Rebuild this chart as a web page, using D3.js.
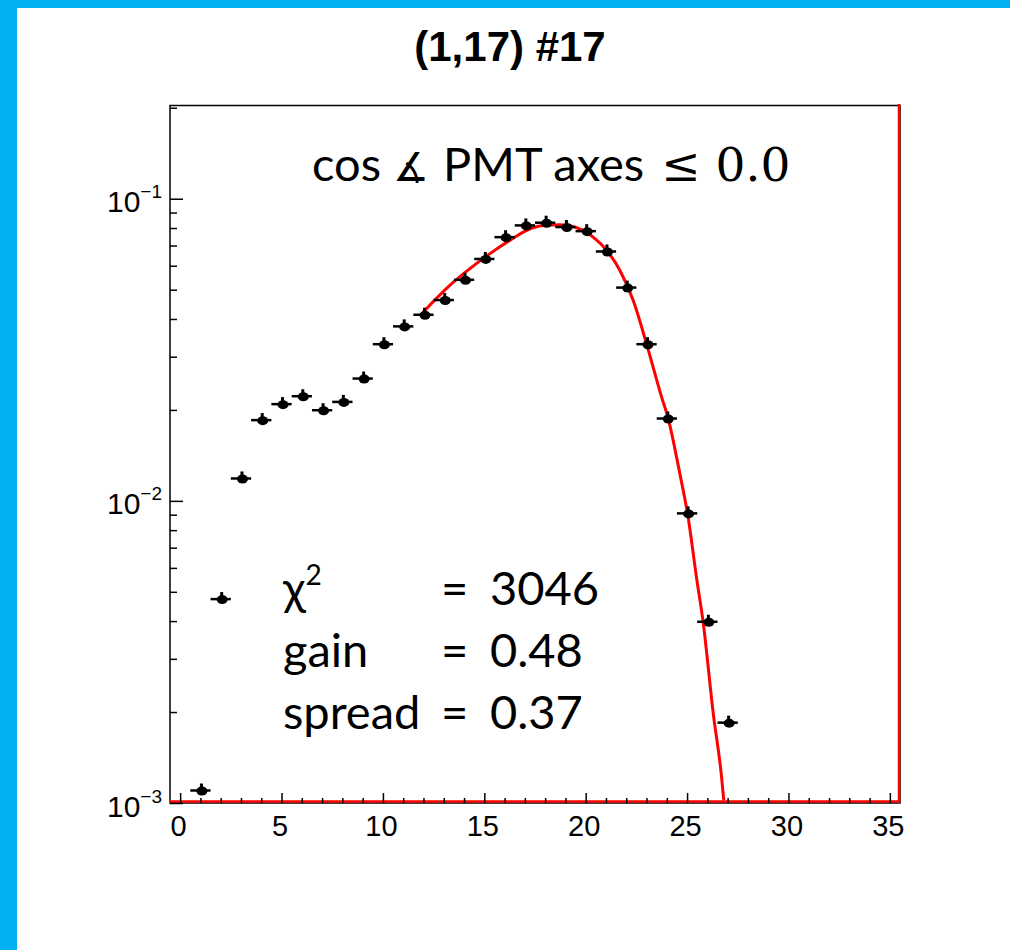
<!DOCTYPE html>
<html><head><meta charset="utf-8">
<script src="https://cdn.jsdelivr.net/npm/d3@7"></script>
<style>body{margin:0;background:#fff;} svg{display:block}</style>
</head><body>
<script>
// ---------- data ----------
const binCenters = [1,2,3,4,5,6,7,8,9,10,11,12,13,14,15,16,17,18,19,20,21,22,23,24,25,26,27];
const binValues  = [0.00110,0.00473,0.01186,0.0185,0.0209,0.0222,0.01995,0.02126,0.0254,0.0330,
                    0.0378,0.0413,0.0462,0.0539,0.0632,0.0746,0.0816,0.0833,0.0806,0.0781,
                    0.0669,0.0508,0.0330,0.01873,0.00909,0.00398,0.001845];
const fitX = [11.99,13.30,14.29,15.28,16.26,17.09,17.90,18.73,19.55,20.37,21.03,21.69,22.34,23.0,23.74,24.07,24.64,25.05,25.47,25.79,26.29,26.70,26.81];
const fitY = [0.0422,0.0517,0.0587,0.0658,0.0728,0.0786,0.0816,0.0820,0.0802,0.0746,0.0675,0.0579,0.0461,0.0331,0.0221,0.01873,0.01233,0.00885,0.00554,0.00398,0.00198,0.00122,0.00102];
const xTickValues = [0,5,10,15,20,25,30,35];
const xMinorValues = d3.range(0,36).filter(v => v % 5 !== 0);
const yTickExponents = [-3,-2,-1];
const xDomain = [-0.5, 35.5];
const yDomain = [1e-3, 0.2035];
const titleText = "(1,17) #17";
const statNames = ["χ","gain","spread"];
const statValues = ["3046","0.48","0.37"];

// ---------- layout ----------
const W = 1010, H = 950;
const M = {left:170, right:900, top:105.5, bottom:803};
const blue = "#00B0F0";

const svg = d3.select("body").append("svg").attr("width", W).attr("height", H);
svg.append("rect").attr("width", W).attr("height", H).attr("fill", "#fff");
svg.append("rect").attr("x",0).attr("y",0).attr("width",W).attr("height",8).attr("fill",blue);
svg.append("rect").attr("x",0).attr("y",0).attr("width",17).attr("height",H).attr("fill",blue);

const x = d3.scaleLinear().domain(xDomain).range([M.left, M.right]);
const y = d3.scaleLog().domain(yDomain).range([M.bottom, M.top]);

// title
svg.append("text").attr("x", 510).attr("y", 61).attr("text-anchor","middle")
  .attr("font-family","Liberation Sans, Arial, sans-serif").attr("font-weight","bold")
  .attr("font-size", 42).text(titleText);

// frame
svg.append("rect").attr("x", M.left).attr("y", M.top)
  .attr("width", M.right - M.left).attr("height", M.bottom - M.top)
  .attr("fill","none").attr("stroke","#000").attr("stroke-width",1.5);

// fit function clamped at bottom / right edge
const clampLine = d3.line().x(d => x(d[0])).y(d => y(d[1]));
svg.append("path")
  .datum([[xDomain[0], yDomain[0]], [xDomain[1], yDomain[0]], [xDomain[1], yDomain[1]]])
  .attr("d", clampLine).attr("fill","none").attr("stroke","#ff0000").attr("stroke-width",2.5)
  .attr("transform","translate(-1,-1.5)");

// x axis
const fontAxis = "Liberation Sans, Arial, Helvetica, sans-serif";
const gx = svg.append("g").attr("transform", `translate(0,${M.bottom})`)
  .call(d3.axisBottom(x).tickValues(xTickValues).tickSizeInner(-10).tickSizeOuter(0).tickPadding(12));
gx.select(".domain").remove();
gx.selectAll("line").attr("stroke","#000").attr("stroke-width",1.5);
gx.selectAll("text").attr("font-family",fontAxis).attr("font-size",29).attr("fill","#000").attr("dx",-2);
const gxm = svg.append("g").attr("transform", `translate(0,${M.bottom})`)
  .call(d3.axisBottom(x).tickValues(xMinorValues).tickSizeInner(-5).tickSizeOuter(0).tickFormat(""));
gxm.select(".domain").remove();
gxm.selectAll("line").attr("stroke","#000").attr("stroke-width",1.5);

// y axis
const yMajor = yTickExponents.map(e => Math.pow(10, e));
const yMinor = [];
yTickExponents.forEach(e => { for (let k = 2; k <= 9; k++) { const v = k * Math.pow(10, e); if (v <= yDomain[1]) yMinor.push(v); } });
const gy = svg.append("g").attr("transform", `translate(${M.left},0)`)
  .call(d3.axisLeft(y).tickValues(yMajor).tickSizeInner(-13).tickSizeOuter(0).tickFormat(""));
gy.select(".domain").remove();
gy.selectAll("line").attr("stroke","#000").attr("stroke-width",1.5);
gy.selectAll(".tick").each(function(d) {
  const t = d3.select(this).append("text").attr("x", -8).attr("y", 13)
    .attr("text-anchor","end").attr("font-family",fontAxis).attr("fill","#000");
  t.append("tspan").attr("font-size",30).text("10");
  t.append("tspan").attr("font-size",19).attr("dy",-14).text("−" + String(-Math.round(Math.log10(d))));
});
const gym = svg.append("g").attr("transform", `translate(${M.left},0)`)
  .call(d3.axisLeft(y).tickValues(yMinor).tickSizeInner(-7).tickSizeOuter(0).tickFormat(""));
gym.select(".domain").remove();
gym.selectAll("line").attr("stroke","#000").attr("stroke-width",1.5);

// fit curve
const fitData = fitX.map((v,i) => [v, fitY[i]]);
svg.append("path").datum(fitData)
  .attr("d", d3.line().x(d => x(d[0])).y(d => y(d[1])).curve(d3.curveMonotoneX))
  .attr("fill","none").attr("stroke","#ff0000").attr("stroke-width",3);

// data markers
const pts = svg.append("g").selectAll("g").data(binCenters.map((c,i)=>[c, binValues[i]])).join("g")
  .attr("transform", d => `translate(${x(d[0])},${y(d[1])})`);
pts.append("line").attr("x1", d => x(d[0]-0.5) - x(d[0])).attr("x2", d => x(d[0]+0.5) - x(d[0]))
  .attr("stroke","#000").attr("stroke-width",2.5);
pts.append("line").attr("x1",1).attr("x2",1).attr("y1",-7).attr("y2",4).attr("stroke","#000").attr("stroke-width",3);
pts.append("ellipse").attr("cx",1.5).attr("cy",0.5).attr("rx",5.5).attr("ry",4.5).attr("fill","#000");
</script>
<script>
// annotations
(function(){
const svg = d3.select("svg");
const fontText = "Lato, 'Open Sans', sans-serif";
const ann = svg.append("text").attr("x", 312).attr("y", 181).attr("font-family", fontText).attr("font-size", 47).attr("fill","#000");
ann.append("tspan").text("cos ");
ann.append("tspan").attr("font-family","DejaVu Sans, sans-serif").attr("font-size",40).attr("font-weight",300).text("∡");
ann.append("tspan").attr("dx",2).text(" PMT axes ");
ann.append("tspan").attr("dx",5).attr("font-family","DejaVu Serif, serif").text("≤ 0.0");

const rows = [605, 667, 729];
statNames.forEach((n, i) => {
  const t = svg.append("text").attr("x", 283).attr("y", rows[i]).attr("font-family", fontText).attr("font-size", 47).attr("fill","#000");
  t.append("tspan").text(n);
  if (i === 0) t.append("tspan").attr("font-size", 28).attr("dy", -20).text("2");
  svg.append("text").attr("x", 441).attr("y", rows[i]).attr("font-family", fontText).attr("font-size", 47).text("=");
  svg.append("text").attr("x", 490).attr("y", rows[i]).attr("font-family", fontText).attr("font-size", 47).text(statValues[i]);
});
})();
</script>
</body></html>
